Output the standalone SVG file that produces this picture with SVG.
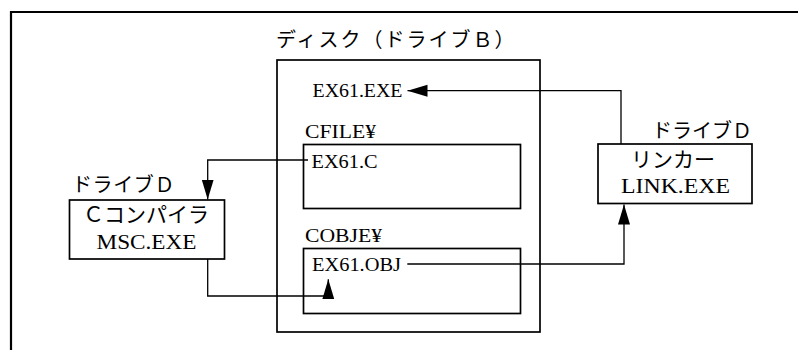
<svg xmlns="http://www.w3.org/2000/svg" width="798" height="350" viewBox="0 0 798 350">
  <defs>
    <marker id="arrow" markerUnits="userSpaceOnUse" markerWidth="21" markerHeight="13" refX="20" refY="6" orient="auto">
      <path d="M0,0 L20,6 L0,12 z" fill="#000"/>
    </marker>
    <style>
      .box { fill: #fff; stroke: #000; stroke-width: 1.7; }
      .frame { fill: none; stroke: #000; stroke-width: 2.2; }
      .wire { fill: none; stroke: #000; stroke-width: 1.3; }
      .jp { font-family: "Noto Sans CJK JP", "Noto Sans", sans-serif; fill: #000; }
      .en { font-family: "Liberation Serif", "DejaVu Serif", serif; fill: #000; }
    </style>
  </defs>

  <rect width="798" height="350" fill="#fff"/>

  <!-- page frame, open to the right and bottom -->
  <path class="frame" d="M11,350 V12 H798"/>

  <!-- drive B disk -->
  <g id="disk">
    <text class="jp" x="276" y="47" font-size="20" letter-spacing="2">ディスク（ドライブＢ）</text>
    <rect class="box" x="277" y="60" width="263" height="272" stroke-width="2"/>
    <text class="en" x="312.5" y="96.5" font-size="18" textLength="90" lengthAdjust="spacingAndGlyphs">EX61.EXE</text>
  </g>

  <g id="cfile">
    <text class="en" x="305" y="138.3" font-size="18" textLength="71" lengthAdjust="spacingAndGlyphs">CFILE¥</text>
    <rect class="box" x="303.5" y="144.5" width="217" height="64"/>
    <text class="en" x="311.5" y="168.3" font-size="18" textLength="66" lengthAdjust="spacingAndGlyphs">EX61.C</text>
  </g>

  <g id="cobje">
    <text class="en" x="305" y="242.3" font-size="18" textLength="77" lengthAdjust="spacingAndGlyphs">COBJE¥</text>
    <rect class="box" x="303.5" y="248.5" width="217" height="65"/>
    <text class="en" x="312" y="271" font-size="18" textLength="89" lengthAdjust="spacingAndGlyphs">EX61.OBJ</text>
  </g>

  <!-- compiler on drive D -->
  <g id="compiler">
    <text class="jp" x="72" y="192" font-size="20" letter-spacing="0.6">ドライブＤ</text>
    <rect class="box" x="69.5" y="200" width="155" height="59"/>
    <text class="jp" x="83" y="222" font-size="21">Ｃコンパイラ</text>
    <text class="en" x="96.5" y="249.3" font-size="20" textLength="100" lengthAdjust="spacingAndGlyphs">MSC.EXE</text>
  </g>

  <!-- linker on drive D -->
  <g id="linker">
    <text class="jp" x="652" y="138" font-size="20">ドライブＤ</text>
    <rect class="box" x="598" y="144" width="154" height="59.5"/>
    <text class="jp" x="631" y="166.5" font-size="21">リンカー</text>
    <text class="en" x="621" y="193.3" font-size="20" textLength="109" lengthAdjust="spacingAndGlyphs">LINK.EXE</text>
  </g>

  <g id="connectors">
    <path class="wire" d="M621,144 V90.7 H407.5" marker-end="url(#arrow)"/>
    <path class="wire" d="M308,160 H207.7 V199.5" marker-end="url(#arrow)"/>
    <path class="wire" d="M207.7,259 V296 H328.3 V279.3" marker-end="url(#arrow)"/>
    <path class="wire" d="M407.3,264 H624 V204.5" marker-end="url(#arrow)"/>
  </g>
</svg>
